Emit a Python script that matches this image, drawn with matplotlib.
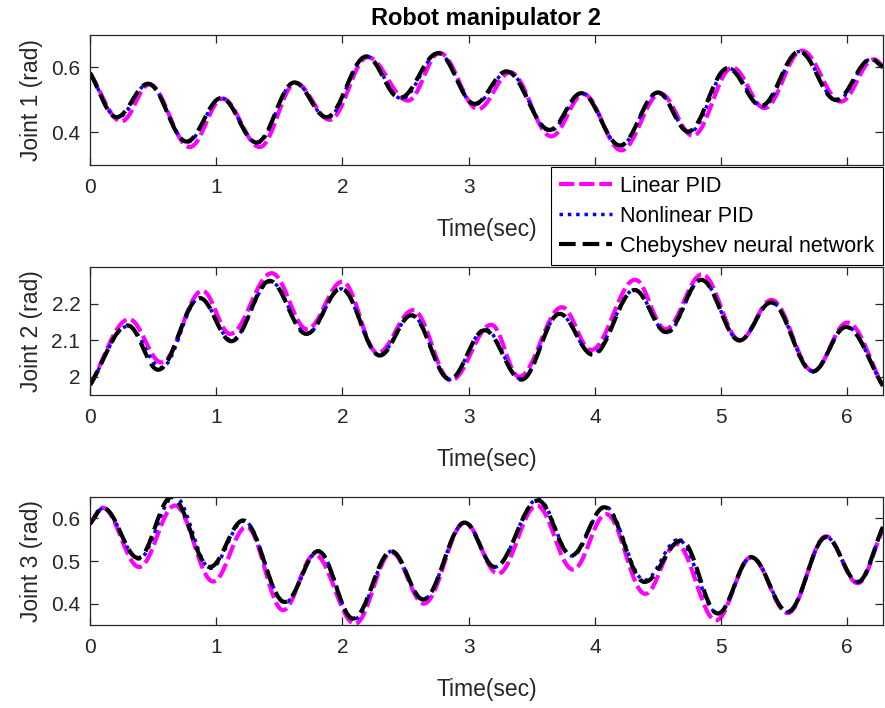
import numpy as np
import matplotlib
matplotlib.use("Agg")
import matplotlib.pyplot as plt
from matplotlib.path import Path
from matplotlib.patches import PathPatch
from matplotlib.lines import Line2D

# extrema (time, value), per joint and controller
# joint 1
j1_lin_t = [0, 0.25, 0.47, 0.79, 1.05, 1.345, 1.63, 1.90, 2.20, 2.52, 2.77, 3.075, 3.33, 3.655, 3.91, 4.21, 4.52, 4.777, 5.09, 5.345, 5.64, 5.95, 6.21, 6.283]
j1_lin_v = [0.583, 0.434, 0.548, 0.355, 0.504, 0.355, 0.552, 0.439, 0.632, 0.498, 0.645, 0.472, 0.585, 0.388, 0.518, 0.345, 0.52, 0.39, 0.60, 0.475, 0.652, 0.495, 0.625, 0.605]
j1_non_t = [0, 0.22, 0.46, 0.77, 1.04, 1.325, 1.62, 1.88, 2.19, 2.47, 2.76, 3.05, 3.31, 3.645, 3.90, 4.20, 4.50, 4.75, 5.06, 5.33, 5.62, 5.92, 6.19, 6.283]
j1_non_v = [0.583, 0.445, 0.55, 0.37, 0.506, 0.368, 0.554, 0.445, 0.634, 0.504, 0.644, 0.486, 0.588, 0.405, 0.521, 0.358, 0.523, 0.40, 0.598, 0.48, 0.649, 0.498, 0.626, 0.60]
j1_che_t = [0, 0.21, 0.46, 0.765, 1.04, 1.32, 1.62, 1.874, 2.19, 2.455, 2.758, 3.048, 3.30, 3.642, 3.893, 4.20, 4.50, 4.74, 5.054, 5.318, 5.62, 5.91, 6.19, 6.283]
j1_che_v = [0.583, 0.447, 0.55, 0.372, 0.506, 0.369, 0.554, 0.447, 0.634, 0.506, 0.644, 0.488, 0.588, 0.408, 0.521, 0.36, 0.523, 0.403, 0.598, 0.482, 0.649, 0.50, 0.626, 0.60]

# joint 2
j2_lin_t = [0, 0.31, 0.567, 0.89, 1.11, 1.44, 1.72, 2.0, 2.28, 2.56, 2.86, 3.18, 3.40, 3.74, 3.97, 4.32, 4.56, 4.85, 5.15, 5.40, 5.73, 6.0, 6.283]
j2_lin_v = [1.977, 2.157, 2.039, 2.235, 2.117, 2.283, 2.13, 2.26, 2.065, 2.182, 1.99, 2.142, 2.0, 2.19, 2.073, 2.265, 2.13, 2.28, 2.10, 2.21, 2.015, 2.148, 1.975]
j2_non_t = [0, 0.30, 0.565, 0.87, 1.12, 1.43, 1.72, 1.99, 2.29, 2.55, 2.85, 3.13, 3.42, 3.72, 3.98, 4.315, 4.57, 4.845, 5.146, 5.40, 5.727, 5.99, 6.283]
j2_non_v = [1.977, 2.138, 2.025, 2.215, 2.10, 2.26, 2.118, 2.24, 2.06, 2.168, 1.993, 2.13, 1.993, 2.172, 2.062, 2.238, 2.12, 2.265, 2.10, 2.203, 2.015, 2.137, 1.975]
j2_che_t = [0, 0.30, 0.54, 0.87, 1.12, 1.425, 1.715, 1.99, 2.296, 2.547, 2.85, 3.127, 3.418, 3.721, 3.985, 4.315, 4.566, 4.843, 5.146, 5.397, 5.727, 5.99, 6.283]
j2_che_v = [1.977, 2.14, 2.019, 2.215, 2.097, 2.262, 2.117, 2.241, 2.058, 2.168, 1.993, 2.127, 1.992, 2.172, 2.06, 2.237, 2.122, 2.265, 2.099, 2.203, 2.014, 2.136, 1.975]

# joint 3
j3_lin_t = [0, 0.10, 0.39, 0.673, 0.976, 1.24, 1.53, 1.78, 2.10, 2.39, 2.645, 2.97, 3.233, 3.54, 3.827, 4.09, 4.40, 4.645, 4.96, 5.239, 5.529, 5.833, 6.083, 6.283]
j3_lin_v = [0.587, 0.625, 0.486, 0.63, 0.452, 0.58, 0.385, 0.515, 0.353, 0.52, 0.40, 0.59, 0.47, 0.63, 0.48, 0.61, 0.423, 0.54, 0.361, 0.509, 0.378, 0.558, 0.448, 0.575]
j3_non_t = [0, 0.105, 0.385, 0.67, 0.955, 1.22, 1.545, 1.81, 2.09, 2.39, 2.64, 2.97, 3.21, 3.55, 3.82, 4.08, 4.394, 4.66, 4.975, 5.24, 5.53, 5.833, 6.083, 6.283]
j3_non_v = [0.587, 0.624, 0.505, 0.652, 0.483, 0.594, 0.403, 0.523, 0.363, 0.523, 0.41, 0.59, 0.486, 0.645, 0.512, 0.628, 0.455, 0.55, 0.377, 0.509, 0.381, 0.556, 0.451, 0.58]
j3_che_t = [0, 0.105, 0.382, 0.647, 0.95, 1.214, 1.544, 1.808, 2.085, 2.389, 2.64, 2.969, 3.207, 3.55, 3.814, 4.077, 4.394, 4.685, 4.975, 5.239, 5.529, 5.833, 6.083, 6.283]
j3_che_v = [0.587, 0.624, 0.507, 0.65, 0.486, 0.595, 0.404, 0.523, 0.365, 0.523, 0.41, 0.59, 0.486, 0.642, 0.513, 0.626, 0.451, 0.548, 0.377, 0.509, 0.381, 0.556, 0.451, 0.58]

ylabels = ["Joint 1 (rad)", "Joint 2 (rad)", "Joint 3 (rad)"]
yticks = [[0.4, 0.6], [2.0, 2.1, 2.2], [0.4, 0.5, 0.6]]
yticklabels = [["0.4", "0.6"], ["2", "2.1", "2.2"], ["0.4", "0.5", "0.6"]]
ylims = [(0.3, 0.7), (1.95, 2.3), (0.35, 0.65)]
xticks = [0, 1, 2, 3, 4, 5, 6]
names = ["Linear PID", "Nonlinear PID", "Chebyshev neural network"]

plt.rcParams["font.family"] = ["Liberation Sans", "DejaVu Sans"]
plt.rcParams["lines.scale_dashes"] = False

styles = [
    dict(color="#FF00FF", lw=3.0, ls=(0, (11, 3.5))),
    dict(color="#0000FF", lw=2.5, ls=(0, (2.5, 3.5))),
    dict(color="black", lw=3.0, ls=(0, (12, 5))),
]

K = 1 - 2 / np.pi  # bezier handle so a half swing looks like a half cosine


def wave_path(t, v):
    # smooth curve through the extrema, flat at each turning point
    t = np.asarray(t, float)
    v = np.asarray(v, float)
    s = np.zeros(len(t))
    s[0] = (v[1] - v[0]) / (t[1] - t[0])
    s[-1] = (v[-1] - v[-2]) / (t[-1] - t[-2])
    verts = [(t[0], v[0])]
    codes = [Path.MOVETO]
    for i in range(len(t) - 1):
        dt = t[i + 1] - t[i]
        verts += [(t[i] + K * dt, v[i] + K * dt * s[i]),
                  (t[i + 1] - K * dt, v[i + 1] - K * dt * s[i + 1]),
                  (t[i + 1], v[i + 1])]
        codes += [Path.CURVE4] * 3
    return Path(verts, codes)


series = [
    [(j1_lin_t, j1_lin_v), (j1_non_t, j1_non_v), (j1_che_t, j1_che_v)],
    [(j2_lin_t, j2_lin_v), (j2_non_t, j2_non_v), (j2_che_t, j2_che_v)],
    [(j3_lin_t, j3_lin_v), (j3_non_t, j3_non_v), (j3_che_t, j3_che_v)],
]

fig = plt.figure(figsize=(8.85, 7.08), dpi=100)
boxes = [[0.1017, 0.767, 0.896, 0.1836],
         [0.1017, 0.4421, 0.896, 0.1808],
         [0.1017, 0.1172, 0.896, 0.1808]]
grey = "#262626"

for k in range(3):
    ax = fig.add_axes(boxes[k])
    for (t, v), st in zip(series[k], styles):
        p = PathPatch(wave_path(t, v), fill=False, edgecolor=st["color"],
                      lw=st["lw"], linestyle=st["ls"], capstyle="butt")
        ax.add_patch(p)
    ax.set_xlim(0, 2 * np.pi)
    ax.set_ylim(*ylims[k])
    ax.set_xticks(xticks)
    ax.set_yticks(yticks[k])
    ax.set_yticklabels(yticklabels[k])
    ax.tick_params(direction="in", length=6, width=0.9, top=True, right=True,
                   labelsize=15, colors=grey)
    ax.tick_params(axis="x", pad=9.5)
    ax.tick_params(axis="y", pad=7)
    for sp in ax.spines.values():
        sp.set_color(grey)
        sp.set_linewidth(0.9)
    ax.set_xlabel("Time(sec)", fontsize=16.5, color=grey, labelpad=15)
    ax.set_ylabel(ylabels[k], fontsize=16.5, color=grey, labelpad=6)
    if k == 0:
        ax.set_title("Robot manipulator 2", fontsize=17, fontweight="bold", pad=7)

handles = [Line2D([], [], color=st["color"], lw=st["lw"], linestyle=st["ls"]) for st in styles]
leg = fig.legend(handles, names, loc="upper right", bbox_to_anchor=(0.998, 0.764),
                 fontsize=15.5, frameon=True, fancybox=False, framealpha=1,
                 edgecolor="black", handlelength=2.45, labelspacing=0.42,
                 borderpad=0.4, handletextpad=0.4, borderaxespad=0)
leg.get_frame().set_linewidth(0.8)

fig.savefig("out.png", dpi=100, facecolor="white")
